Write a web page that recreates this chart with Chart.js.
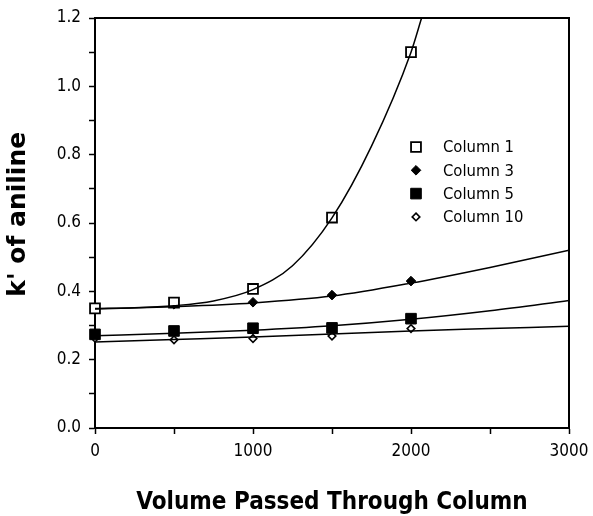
<!DOCTYPE html>
<html><head><meta charset="utf-8">
<script src="https://cdn.jsdelivr.net/npm/chart.js@4/dist/chart.umd.min.js"></script>
<style>html,body{margin:0;padding:0;background:#fff}#wrap{width:593px;height:516px;position:relative}</style>
</head><body><div id="wrap"><canvas id="c"></canvas></div>
<script>
// measured points
const volumes = [0, 500, 1000, 1500, 2000];
const col1 = [0.350, 0.367, 0.407, 0.616, 1.100];
const col3 = [0.347, 0.362, 0.368, 0.389, 0.430];
const col5 = [0.274, 0.284, 0.292, 0.293, 0.320];
const col10 = [0.263, 0.258, 0.262, 0.269, 0.291];

// fitted curves
const fitX1 = [0, 250, 500, 750, 1000, 1250, 1500, 1750, 2000, 2067];
const fit1 = [0.350, 0.352, 0.358, 0.372, 0.405, 0.475, 0.615, 0.825, 1.100, 1.200];
const fitX = [0, 500, 1000, 1500, 2000, 2500, 3000];
const fit3 = [0.348, 0.355, 0.366, 0.386, 0.424, 0.470, 0.520];
const fit5 = [0.270, 0.277, 0.286, 0.299, 0.318, 0.343, 0.373];
const fit10 = [0.252, 0.259, 0.266, 0.275, 0.284, 0.291, 0.298];

const seriesNames = ['Column 1', 'Column 3', 'Column 5', 'Column 10'];
const xTickValues = [0, 1000, 2000, 3000];
const yTickValues = [0.0, 0.2, 0.4, 0.6, 0.8, 1.0, 1.2];

function pts(xs, ys) { return xs.map((x, i) => ({x: x, y: ys[i]})); }

const fitStyle = {showLine: true, pointRadius: 0, pointHoverRadius: 0, borderColor: '#000', borderWidth: 1.5,
  cubicInterpolationMode: 'monotone', fill: false};
const markerStyles = [
  {pointStyle: 'rect', pointRadius: 7, backgroundColor: '#fff', borderColor: '#000', borderWidth: 1.8},
  {pointStyle: 'rectRot', pointRadius: 4.8, backgroundColor: '#000', borderColor: '#000', borderWidth: 1},
  {pointStyle: 'rect', pointRadius: 7.5, backgroundColor: '#000', borderColor: '#000', borderWidth: 1},
  {pointStyle: 'rectRot', pointRadius: 3.8, backgroundColor: '#fff', borderColor: '#000', borderWidth: 1.6}
];
const markerData = [col1, col3, col5, col10];

const datasets = [
  Object.assign({label: 'fit1', data: pts(fitX1, fit1)}, fitStyle),
  Object.assign({label: 'fit3', data: pts(fitX, fit3)}, fitStyle),
  Object.assign({label: 'fit5', data: pts(fitX, fit5)}, fitStyle),
  Object.assign({label: 'fit10', data: pts(fitX, fit10)}, fitStyle)
];
seriesNames.forEach((n, i) => {
  datasets.push(Object.assign({label: n, data: pts(volumes, markerData[i]), showLine: false, clip: false}, markerStyles[i]));
});

function drawMarker(ctx, st, x, y) {
  ctx.save();
  ctx.fillStyle = st.backgroundColor; ctx.strokeStyle = st.borderColor; ctx.lineWidth = st.borderWidth;
  ctx.beginPath();
  const r = st.pointRadius;
  if (st.pointStyle === 'rect') {
    const s = r * Math.SQRT1_2; ctx.rect(x - s, y - s, 2 * s, 2 * s);
  } else {
    ctx.moveTo(x, y - r); ctx.lineTo(x + r, y); ctx.lineTo(x, y + r); ctx.lineTo(x - r, y); ctx.closePath();
  }
  ctx.fill(); ctx.stroke(); ctx.restore();
}

const framePlugin = {
  id: 'frame',
  beforeDatasetsDraw(chart) {
    const {ctx, chartArea: a} = chart;
    ctx.save(); ctx.strokeStyle = '#000'; ctx.lineWidth = 2;
    ctx.strokeRect(a.left, a.top, a.right - a.left, a.bottom - a.top);
    ctx.restore();
  },
  afterDraw(chart) {
    const {ctx, chartArea: a} = chart;
    const mx = a.left + 321, tx = a.left + 348, y0 = a.top + 129, dy = 23.3;
    ctx.save();
    ctx.font = '16.5px "DejaVu Sans Condensed", "DejaVu Sans", sans-serif';
    ctx.fillStyle = '#000'; ctx.textBaseline = 'middle'; ctx.textAlign = 'left';
    seriesNames.forEach((n, i) => {
      const y = y0 + i * dy;
      drawMarker(ctx, markerStyles[i], mx, y);
      ctx.fillText(n, tx, y + 1);
    });
    ctx.restore();
  }
};

new Chart(document.getElementById('c'), {
  type: 'scatter',
  data: {datasets: datasets},
  options: {
    responsive: true, maintainAspectRatio: false, animation: false,
    layout: {padding: {left: 0, right: 24, top: 18, bottom: 0}},
    plugins: {legend: {display: false}, tooltip: {enabled: false}},
    scales: {
      x: {
        type: 'linear', min: 0, max: 3000,
        afterFit: s => { s.height = 88; s.paddingLeft = 0; s.paddingRight = 0; },
        afterBuildTicks: s => { s.ticks = [0, 500, 1000, 1500, 2000, 2500, 3000].map(v => ({value: v})); },
        ticks: {autoSkip: false, maxRotation: 0, color: '#000', padding: 7,
          font: {family: '"DejaVu Sans Condensed", "DejaVu Sans", sans-serif', size: 17},
          callback: v => xTickValues.includes(v) ? String(v) : ''},
        grid: {drawOnChartArea: false, color: '#000', tickLength: 6, tickWidth: 1.5},
        border: {color: '#000', width: 2},
        title: {display: true, text: 'Volume Passed Through Column', color: '#000', padding: {top: 0, bottom: 1},
          font: {family: '"DejaVu Sans Condensed", "DejaVu Sans", sans-serif', size: 24, weight: 'bold', lineHeight: 1}}
      },
      y: {
        type: 'linear', min: 0, max: 1.2,
        afterFit: s => { s.width = 95; s.paddingTop = 0; s.paddingBottom = 0; },
        afterBuildTicks: s => { s.ticks = [0,1,2,3,4,5,6,7,8,9,10,11,12].map(k => ({value: k / 10})); },
        ticks: {autoSkip: false, color: '#000', padding: 8,
          font: {family: '"DejaVu Sans Condensed", "DejaVu Sans", sans-serif', size: 17},
          callback: v => yTickValues.some(t => Math.abs(t - v) < 1e-6) ? v.toFixed(1) : ''},
        grid: {drawOnChartArea: false, color: '#000', tickLength: 6, tickWidth: 1.5},
        border: {color: '#000', width: 2},
        title: {display: true, text: "  k' of aniline", color: '#000', padding: {top: 6, bottom: 0},
          font: {family: '"DejaVu Sans", sans-serif', size: 25, weight: 'bold', lineHeight: 1}}
      }
    }
  },
  plugins: [framePlugin]
});
</script>
</body></html>
